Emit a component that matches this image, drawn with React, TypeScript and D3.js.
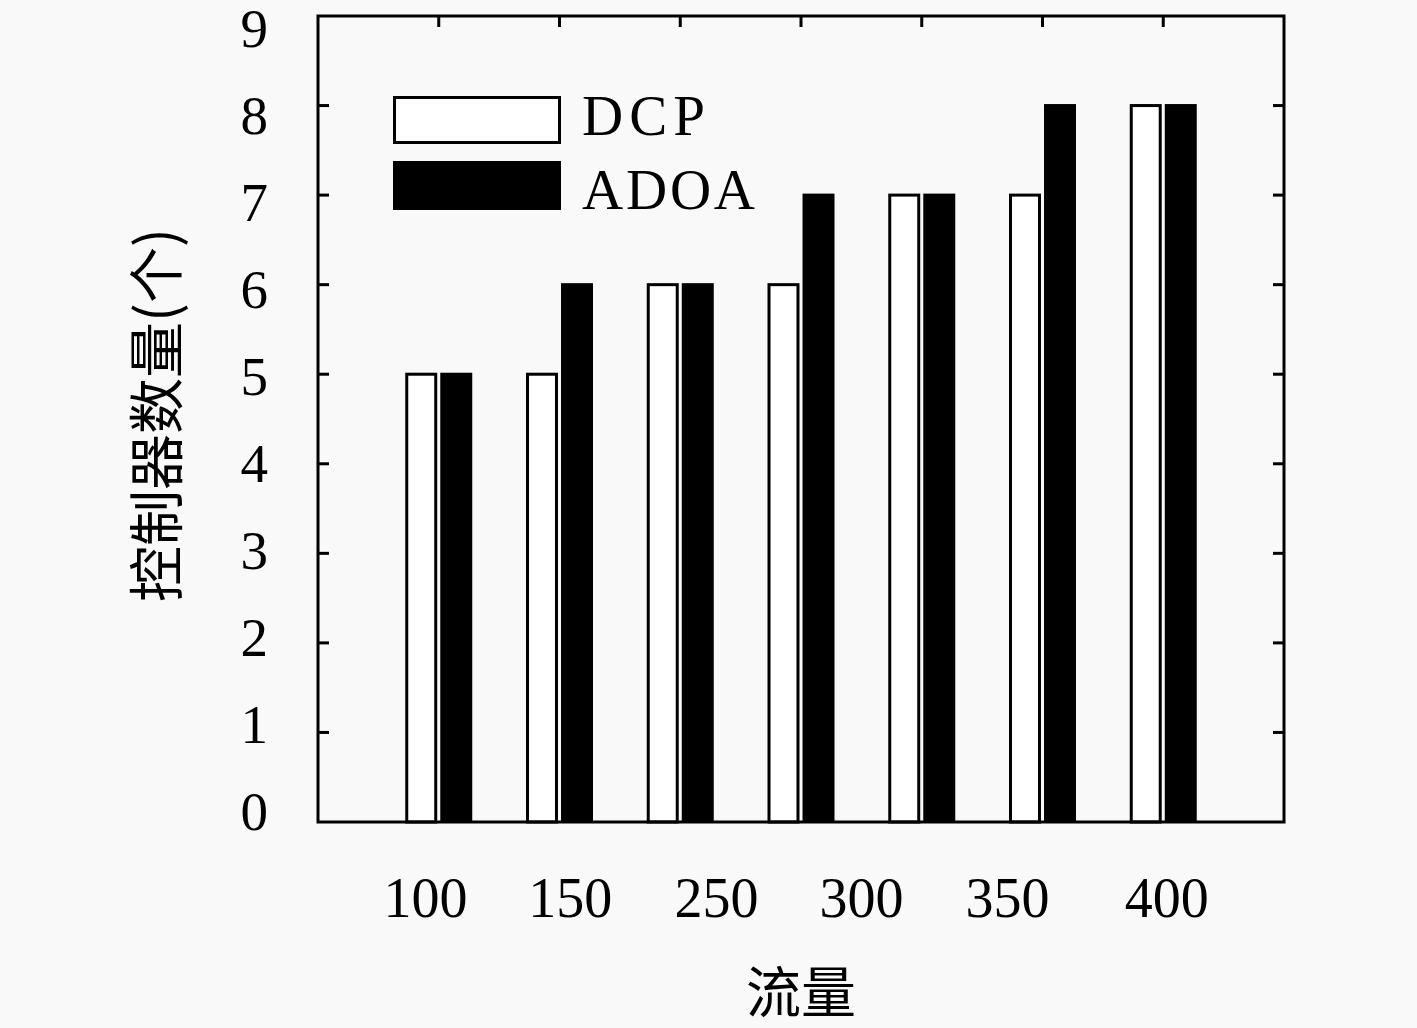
import * as d3 from "d3";

// 流量 groups (bar positions along x, in group units)
const groups = [1, 2, 3, 4, 5, 6, 7];
const dcp = [5, 5, 6, 6, 7, 7, 8];
const adoa = [5, 6, 6, 7, 7, 8, 8];

// x tick labels and where they sit (in the same group units)
const xLabels = ["100", "150", "250", "300", "350", "400"];
const xLabelPos = [0.89, 2.09, 3.3, 4.5, 5.71, 7.03];

const yTicks = [0, 1, 2, 3, 4, 5, 6, 7, 8, 9];

const W = 1417;
const H = 1028;
const margin = { top: 16, right: 133, bottom: 206, left: 318 };
const SERIF = "'Liberation Serif', 'DejaVu Serif', serif";
const CJK = "'Noto Sans CJK SC', sans-serif";

export default function App() {
  const innerW = W - margin.left - margin.right;
  const innerH = H - margin.top - margin.bottom;

  const x = d3.scaleLinear().domain([0, 8]).range([0, innerW]);
  const y = d3.scaleLinear().domain([0, 9]).range([innerH, 0]);
  // the tick labels are spread a little tighter than the ticks themselves
  const yLab = d3.scaleLinear().domain([0, 9]).range([innerH - 11, 12]);
  const unit = x(1) - x(0);
  const barW = unit * 0.24;
  const gap = unit * 0.025;
  const tick = 11;

  return (
    <div style={{ position: "absolute", left: 0, top: 0, width: W, height: H, background: "#f9f9f9" }}>
      <svg width={W} height={H} style={{ display: "block" }}>
        <rect width={W} height={H} fill="#f9f9f9" />
        <g transform={`translate(${margin.left},${margin.top})`}>
          {groups.map((g, i) => (
            <g key={g}>
              <rect
                x={x(g) - gap - barW}
                y={y(dcp[i])}
                width={barW}
                height={innerH - y(dcp[i])}
                fill="#ffffff"
                stroke="#000"
                strokeWidth={3}
              />
              <rect
                x={x(g) + gap - 1.5}
                y={y(adoa[i]) - 1.5}
                width={barW + 3}
                height={innerH - y(adoa[i]) + 1.5}
                fill="#000"
              />
            </g>
          ))}

          {/* y ticks, left and right, pointing inward */}
          {yTicks.slice(1, -1).map((t) => (
            <g key={t}>
              <line x1={0} x2={tick} y1={y(t)} y2={y(t)} stroke="#000" strokeWidth={3} />
              <line x1={innerW - tick} x2={innerW} y1={y(t)} y2={y(t)} stroke="#000" strokeWidth={3} />
            </g>
          ))}
          {/* x ticks on top at group centres */}
          {groups.map((g) => (
            <line key={g} x1={x(g)} x2={x(g)} y1={0} y2={tick} stroke="#000" strokeWidth={3} />
          ))}

          <rect x={0} y={0} width={innerW} height={innerH} fill="none" stroke="#000" strokeWidth={3} />

          {yTicks.map((t) => (
            <text
              key={t}
              x={-50}
              y={yLab(t)}
              dy="0.34em"
              textAnchor="end"
              fontFamily={SERIF}
              fontSize={55}
              fill="#000"
            >
              {t}
            </text>
          ))}

          {xLabels.map((l, i) => (
            <text
              key={l}
              x={x(xLabelPos[i])}
              y={innerH + 95}
              textAnchor="middle"
              fontFamily={SERIF}
              fontSize={56}
              fill="#000"
            >
              {l}
            </text>
          ))}

          <text
            x={801 - margin.left}
            y={innerH + 190}
            textAnchor="middle"
            fontFamily={CJK}
            fontSize={55}
            fill="#000"
          >
            流量
          </text>
          <text
            transform={`translate(${157 - margin.left},${415 - margin.top}) rotate(-90)`}
            textAnchor="middle"
            dy="0.35em"
            fontFamily={CJK}
            fontSize={56}
            fill="#000"
          >
            控制器数量(个)
          </text>

          {/* legend */}
          <g transform={`translate(${393 - margin.left},${96 - margin.top})`}>
            <rect x={1.5} y={1.5} width={165} height={45} fill="#fff" stroke="#000" strokeWidth={3} />
            <text x={189} y={39} fontFamily={SERIF} fontSize={57} textLength={123} lengthAdjust="spacing" fill="#000">
              DCP
            </text>
            <rect x={0} y={65} width={168} height={49} fill="#000" />
            <text x={189} y={113} fontFamily={SERIF} fontSize={57} textLength={173} lengthAdjust="spacing" fill="#000">
              ADOA
            </text>
          </g>
        </g>
      </svg>
    </div>
  );
}
